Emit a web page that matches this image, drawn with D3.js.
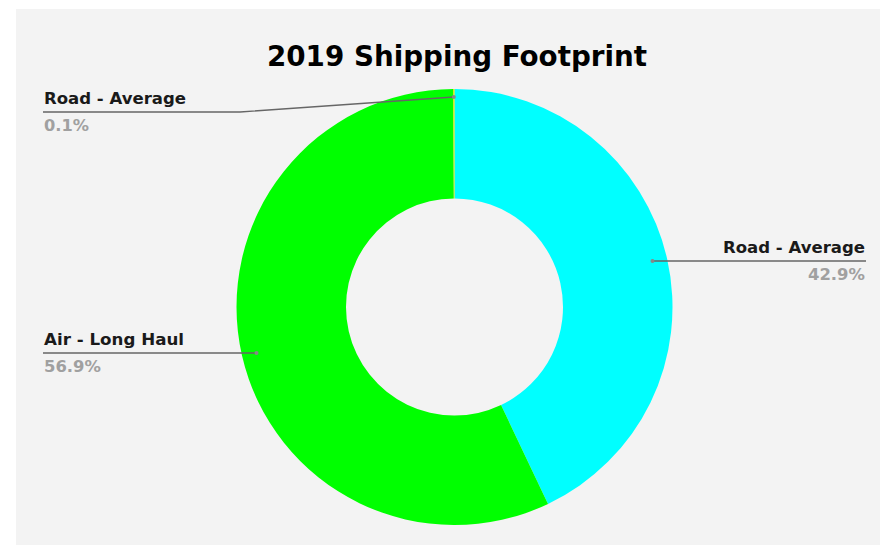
<!DOCTYPE html>
<html><head><meta charset="utf-8">
<script src="https://cdn.jsdelivr.net/npm/d3@7"></script>
<style>html,body{margin:0;padding:0;background:#fff;}</style>
</head><body>
<svg id="c" width="881" height="545"></svg>
<script>
const title = "2019 Shipping Footprint";
const categories = ["Road - Average", "Air - Long Haul", "Road - Average"];
const values = [42.9, 56.9, 0.1];
const colors = ["#00ffff", "#00ff00", "#d4e600"];
const labelSide = ["right", "left", "left"];
const labelY = [261, 353, 112];

const FONT = "DejaVu Sans, Arial, sans-serif";
const svg = d3.select("#c");
svg.append("rect").attr("x",16).attr("y",9).attr("width",864).attr("height",536).attr("fill","#f3f3f3");

function fitText(sel, w) {
  const n = sel.node();
  const cur = n.getComputedTextLength();
  if (cur > 0) sel.attr("textLength", w).attr("lengthAdjust","spacingAndGlyphs");
  return sel;
}

fitText(svg.append("text").attr("x",457).attr("y",66).attr("text-anchor","middle")
  .attr("font-family",FONT).attr("font-weight","bold")
  .attr("font-size",28).attr("fill","#000").text(title), 380);

const cx = 454.5, cy = 307, R = 218, r = 108.5;
const g = svg.append("g").attr("transform",`translate(${cx},${cy})`);
const pie = d3.pie().sort(null).value(d=>d)(values);
const arc = d3.arc().innerRadius(r).outerRadius(R);
g.selectAll("path").data(pie).join("path").attr("d",arc).attr("fill",(d,i)=>colors[i]);

const lab = svg.append("g");
pie.forEach((d,i)=>{
  const mid = (d.startAngle+d.endAngle)/2;
  const ar = (r+R)/2 + 40;
  let px, py;
  if (i===2) { px = cx + Math.sin(mid)*(R-8); py = cy - Math.cos(mid)*(R-8); }
  else {
    py = labelY[i];
    const dx = Math.sqrt(Math.max(0, ar*ar-(py-cy)**2));
    px = labelSide[i]==="right" ? cx+dx : cx-dx;
  }
  const y0 = labelY[i];
  const right = labelSide[i]==="right";
  const xEnd = right ? 866 : 43;
  const pts = (i===2) ? [[xEnd,y0],[240,y0],[px,py]] : [[xEnd,y0],[px,py]];
  lab.append("path").attr("d",d3.line()(pts)).attr("fill","none").attr("stroke","#666").attr("stroke-width",1.3);
  lab.append("circle").attr("cx",px).attr("cy",py).attr("r",2).attr("fill","#888");
  const tx = right ? 865 : 44;
  const anchor = right ? "end" : "start";
  const nameW = categories[i].length===14 ? 142 : 140;
  fitText(lab.append("text").attr("x",tx).attr("y",y0-8).attr("text-anchor",anchor)
    .attr("font-family",FONT).attr("font-weight","bold")
    .attr("font-size",16.5).attr("fill","#1a1a1a").text(categories[i]), nameW);
  const pct = d3.format(".1f")(values[i])+"%";
  fitText(lab.append("text").attr("x",tx).attr("y",y0+19).attr("text-anchor",anchor)
    .attr("font-family",FONT).attr("font-weight","bold")
    .attr("font-size",15).attr("fill","#a0a0a0").text(pct), pct.length===4 ? 45 : 57);
});
</script>
</body></html>
